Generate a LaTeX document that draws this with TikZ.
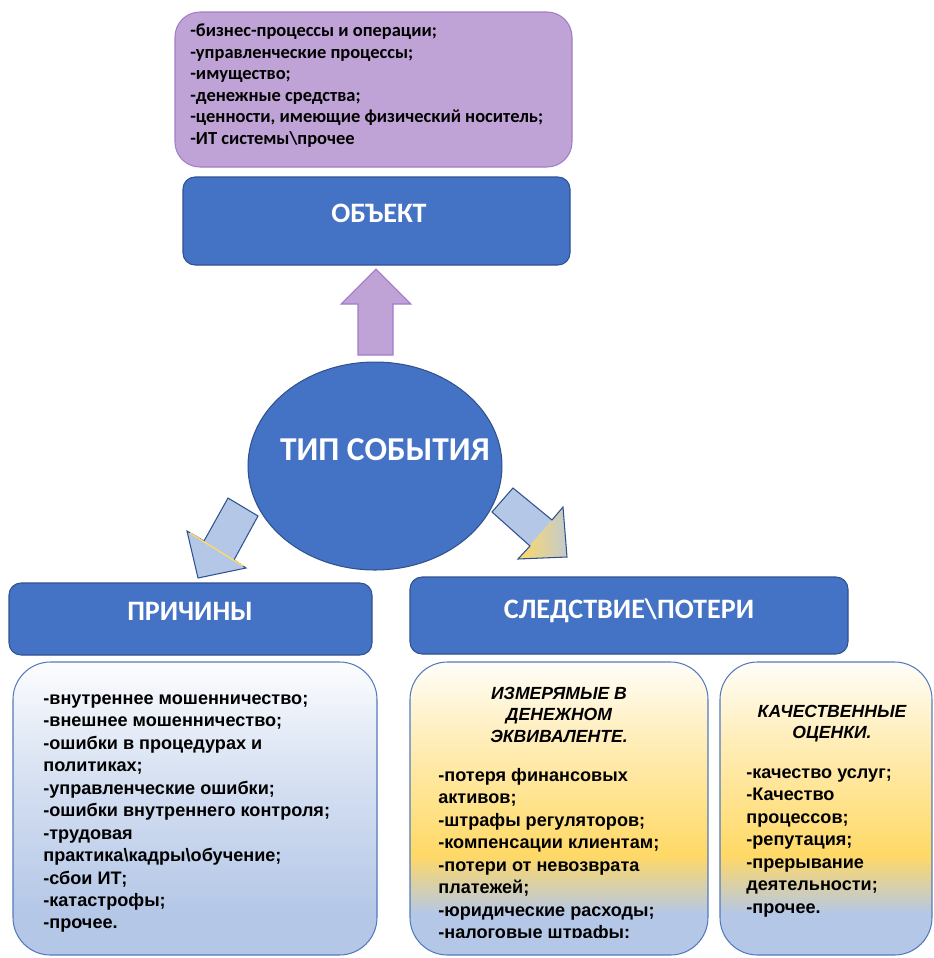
\documentclass[tikz,border=0pt]{standalone}
\usepackage{fontspec}
\setmainfont{Carlito}
\newfontfamily\arialfont{Liberation Sans}
\usetikzlibrary{shapes.geometric}
\definecolor{objBlue}{HTML}{4472C4}
\definecolor{objEdge}{HTML}{2F528F}
\definecolor{lilacFill}{HTML}{C0A3D6}
\definecolor{lilacEdge}{HTML}{A37CC8}
\definecolor{paleBlue}{HTML}{B4C7E7}
\definecolor{goldFill}{HTML}{FFD966}
\definecolor{listEdge}{HTML}{5479BD}

\pgfdeclareverticalshading{causeshade}{100bp}{color(0bp)=(paleBlue); color(32bp)=(paleBlue); color(55bp)=(paleBlue!55!white); color(75bp)=(white!96!paleBlue); color(100bp)=(white!96!paleBlue)}
\pgfdeclareverticalshading{lossshade}{100bp}{color(0bp)=(paleBlue); color(32bp)=(paleBlue); color(42bp)=(goldFill); color(62bp)=(goldFill!45!white); color(75bp)=(white!96!goldFill); color(100bp)=(white!96!goldFill)}

\begin{document}
\begin{tikzpicture}[x=0.02cm, y=-0.02cm,
  headbox/.style={draw=objEdge, fill=objBlue, line width=0.6pt, rounded corners=0.24cm},
  headtext/.style={anchor=base, inner sep=0pt, text=white, font=\fontsize{16}{19}\selectfont\bfseries},
  listbox/.style={draw=listEdge, line width=0.6pt, rounded corners=0.75cm, shade},
  listtext/.style={anchor=north west, inner sep=0pt, align=left, font=\arialfont\fontsize{10.3}{12.8}\selectfont\bfseries},
  subtitle/.style={anchor=north, inner sep=0pt, align=center, font=\arialfont\fontsize{10}{12.2}\selectfont\bfseries\itshape},
  blockarrow/.style={draw=objEdge, line width=0.6pt, line join=miter}]

  \useasboundingbox (0,0) rectangle (934,958);
  \clip (0,0) rectangle (934,958);

  % Object contents
  \draw[draw=lilacEdge, fill=lilacFill, line width=0.6pt, rounded corners=0.5cm] (175,12) rectangle (572,167);
  \node[anchor=north west, inner sep=0pt, align=left, font=\fontsize{10.5}{12.3}\selectfont\bfseries] (objlist) at (190,21)
    {\strut-бизнес-процессы и операции;\\-управленческие процессы;\\-имущество;\\-денежные средства;\\-ценности, имеющие физический носитель;\\-ИТ системы\textbackslash прочее};

  % Object
  \draw[headbox] (183,177) rectangle (570,265);
  \node[headtext, font=\fontsize{16}{19}\selectfont\bfseries] (obj) at (379,222) {ОБЪЕКТ};

  % Arrow up
  \draw[draw=lilacEdge, fill=lilacFill, line width=0.6pt] (376,269) -- (411,304) -- (393,304) -- (393,355) -- (358,355) -- (358,304) -- (341,304) -- cycle;

  % Event type
  \node[ellipse, draw=objEdge, fill=objBlue, line width=0.6pt, minimum width=5.08cm, minimum height=4.16cm, inner sep=0pt] (evt) at (375,466) {};
  \node[headtext, font=\fontsize{19}{22}\selectfont\bfseries] (evtname) at (385,460) {ТИП СОБЫТИЯ};

  % Arrow to causes
  \draw[blockarrow, fill=paleBlue] (228,498) -- (258,516) -- (234,560) -- (246,568) -- (198,578) -- (187,531) -- (204,541) -- cycle;
  \draw[goldFill, line width=0.8pt] (190,533) -- (243,566);

  % Arrow to losses
  \fill[paleBlue] (492,512) -- (513,488) -- (552,520) -- (530,546) -- cycle;
  \shade[left color=goldFill, right color=paleBlue!80!goldFill] (518,559) -- (563,507) -- (567,557) -- cycle;
  \draw[blockarrow] (492,512) -- (513,488) -- (552,520) -- (563,507) -- (567,557) -- (518,559) -- (530,546) -- cycle;

  % Headings
  \draw[headbox] (9,583) rectangle (372,655);
  \node[headtext] (causes) at (190,620) {ПРИЧИНЫ};
  \draw[headbox] (410,577) rectangle (848,654);
  \node[headtext] (losses) at (629,618) {СЛЕДСТВИЕ\textbackslash ПОТЕРИ};

  % Causes list
  \path[listbox, shading=causeshade] (13,662) rectangle (377,955);
  \node[listtext] (causelist) at (43,688)
    {\strut-внутреннее мошенничество;\\-внешнее мошенничество;\\-ошибки в процедурах и\\политиках;\\-управленческие ошибки;\\-ошибки внутреннего контроля;\\-трудовая\\практика\textbackslash кадры\textbackslash обучение;\\-сбои ИТ;\\-катастрофы;\\-прочее.};

  % Money losses
  \path[listbox, shading=lossshade] (410,662) rectangle (708,955);
  \node[subtitle] (moneyhead) at (559,684) {\strut ИЗМЕРЯМЫЕ В\\ДЕНЕЖНОМ\\ЭКВИВАЛЕНТЕ.};
  \begin{scope}
    \clip (410,662) rectangle (708,937);
    \node[listtext] (moneylist) at (438,765)
      {\strut-потеря финансовых\\активов;\\-штрафы регуляторов;\\-компенсации клиентам;\\-потери от невозврата\\платежей;\\-юридические расходы;\\-налоговые штрафы;};
  \end{scope}

  % Quality losses
  \path[listbox, shading=lossshade] (720,662) rectangle (932,955);
  \node[subtitle] (qualhead) at (832,702) {\strut КАЧЕСТВЕННЫЕ\\ОЦЕНКИ.};
  \node[listtext] (quallist) at (746,762)
    {\strut-качество услуг;\\-Качество\\процессов;\\-репутация;\\-прерывание\\деятельности;\\-прочее.};
\end{tikzpicture}
\end{document}
